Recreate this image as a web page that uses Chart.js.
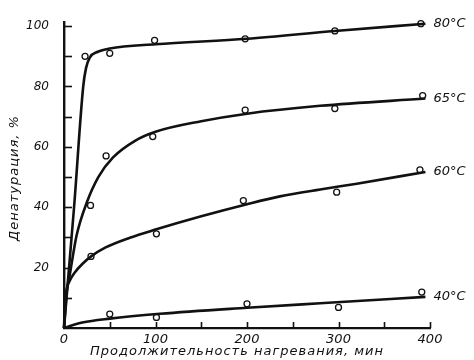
<!DOCTYPE html>
<html><head><meta charset="utf-8">
<script src="https://cdn.jsdelivr.net/npm/chart.js@4.4.0/dist/chart.umd.min.js"></script>
<style>html,body{margin:0;padding:0;background:#fff}#wrap{width:474px;height:360px}</style>
</head><body>
<div id="wrap"><canvas id="c" width="474" height="360"></canvas></div>
<script>
// ---- data ----
const xTickLabels = [0, 100, 200, 300, 400];
const yTickLabels = [20, 40, 60, 80, 100];
const xMinorTicks = [50, 100, 150, 200, 250, 300, 350, 400];
const yMinorTicks = [10, 20, 30, 40, 50, 60, 70, 80, 90, 100];
const xTitle = 'Продолжительность нагревания, мин';
const yTitle = 'Денатурация, %';
const seriesNames = ['80°C', '65°C', '60°C', '40°C'];

// observed points (circles)
const obsTime80 = [23, 50, 99, 198, 296, 390];
const obsVal80  = [90, 91, 95.3, 95.8, 98.4, 100.8];
const obsTime65 = [29, 46, 97, 198, 296, 392];
const obsVal65  = [40.6, 57, 63.4, 72.2, 72.7, 77];
const obsTime60 = [29.5, 101, 196, 298, 389];
const obsVal60  = [23.7, 31.2, 42.2, 45, 52.4];
const obsTime40 = [50, 101, 200, 300, 391];
const obsVal40  = [4.6, 3.5, 8.0, 6.8, 11.9];

// fitted curves
const curveTime80 = [0, 11, 21, 24, 28, 37, 50, 100, 200, 296, 395];
const curveVal80  = [0, 40, 80, 86, 89.5, 91.5, 92.6, 94, 95.8, 98.4, 100.8];
const curveTime65 = [0, 3, 6.5, 13.8, 24.8, 37.5, 53.6, 77.6, 100, 150, 200, 280, 395];
const curveVal65  = [0, 12, 18, 30.7, 41.5, 50, 56.5, 62, 65, 68.5, 71, 73.6, 76];
const curveTime60 = [0, 1, 3, 6, 12, 20, 30, 45, 72, 100, 150, 200, 236, 280, 320, 395];
const curveVal60  = [0, 8, 13, 15.5, 18.5, 21.2, 23.8, 26.6, 29.9, 32.6, 37, 41, 43.6, 45.9, 47.8, 51.7];
const curveTime40 = [0, 20, 50, 105, 200, 280, 395];
const curveVal40  = [0, 1.8, 3.1, 4.7, 6.7, 8.2, 10.3];

const pts = (xs, ys) => xs.map((x, i) => ({x, y: ys[i]}));
const INK = '#111';

function curveDs(xs, ys, name) {
  return { label: name, data: pts(xs, ys), showLine: true, borderColor: INK, borderWidth: 2.6,
    pointRadius: 0, cubicInterpolationMode: 'monotone', fill: false, clip: false, isCurve: true };
}
function obsDs(xs, ys, name) {
  return { label: name + ' (опыт)', data: pts(xs, ys), showLine: false, pointRadius: 3,
    pointBackgroundColor: '#fff', pointBorderColor: INK, pointBorderWidth: 1.3, clip: false };
}

const overlay = {
  id: 'overlay',
  afterDatasetsDraw(chart) {
    const ctx = chart.ctx, xs = chart.scales.x, ys = chart.scales.y;
    const ca = chart.chartArea;
    ctx.save();
    ctx.strokeStyle = INK; ctx.lineWidth = 1.6;
    yMinorTicks.forEach(v => {
      const py = Math.round(ys.getPixelForValue(v)) + 0.5;
      ctx.beginPath(); ctx.moveTo(ca.left, py); ctx.lineTo(ca.left + 8, py); ctx.stroke();
    });
    xMinorTicks.forEach(v => {
      const px = Math.round(xs.getPixelForValue(v)) + 0.5;
      ctx.beginPath(); ctx.moveTo(px, ca.bottom); ctx.lineTo(px, ca.bottom - 6); ctx.stroke();
    });
    // series labels at curve ends
    ctx.fillStyle = INK;
    ctx.font = 'italic 13px "DejaVu Sans"';
    ctx.textBaseline = 'middle'; ctx.textAlign = 'left';
    let k = 0;
    chart.data.datasets.forEach((ds, i) => {
      if (!ds.isCurve) return;
      const meta = chart.getDatasetMeta(i);
      const last = meta.data[meta.data.length - 1];
      ctx.fillText(seriesNames[k++], last.x + 8, last.y);
    });
    // axis titles
    ctx.font = 'italic 13px "DejaVu Sans"';
    ctx.letterSpacing = '1px';
    ctx.textAlign = 'center';
    ctx.fillText(xTitle, 237, 352);
    ctx.translate(15, 178); ctx.rotate(-Math.PI / 2);
    ctx.fillText(yTitle, 0, 0);
    ctx.restore();
  }
};

new Chart(document.getElementById('c'), {
  type: 'scatter',
  data: {
    datasets: [
      curveDs(curveTime80, curveVal80, seriesNames[0]),
      curveDs(curveTime65, curveVal65, seriesNames[1]),
      curveDs(curveTime60, curveVal60, seriesNames[2]),
      curveDs(curveTime40, curveVal40, seriesNames[3]),
      obsDs(obsTime80, obsVal80, seriesNames[0]),
      obsDs(obsTime65, obsVal65, seriesNames[1]),
      obsDs(obsTime60, obsVal60, seriesNames[2]),
      obsDs(obsTime40, obsVal40, seriesNames[3])
    ]
  },
  options: {
    responsive: false, animation: false,
    layout: { padding: { top: 5, right: 44, left: 0, bottom: 0 } },
    plugins: { legend: { display: false }, tooltip: { enabled: false } },
    scales: {
      x: {
        type: 'linear', min: 0, max: 400,
        grid: { display: true, drawOnChartArea: false, drawTicks: false },
        border: { display: true, color: INK, width: 2.2 },
        afterBuildTicks: s => { s.ticks = xTickLabels.map(v => ({value: v})); },
        afterFit: s => { s.height = 32; },
        ticks: { color: INK, padding: 4, maxRotation: 0, autoSkip: false,
          font: { family: 'DejaVu Sans', size: 13, style: 'italic' } }
      },
      y: {
        type: 'linear', min: 0, max: 101.3,
        grid: { display: true, drawOnChartArea: false, drawTicks: false },
        border: { display: true, color: INK, width: 2.4 },
        afterBuildTicks: s => { s.ticks = yTickLabels.map(v => ({value: v})); },
        afterFit: s => { s.width = 64; },
        ticks: { color: INK, padding: 15, autoSkip: false,
          font: { family: 'DejaVu Sans', size: 12, style: 'italic' } }
      }
    }
  },
  plugins: [overlay]
});
</script>
</body></html>
